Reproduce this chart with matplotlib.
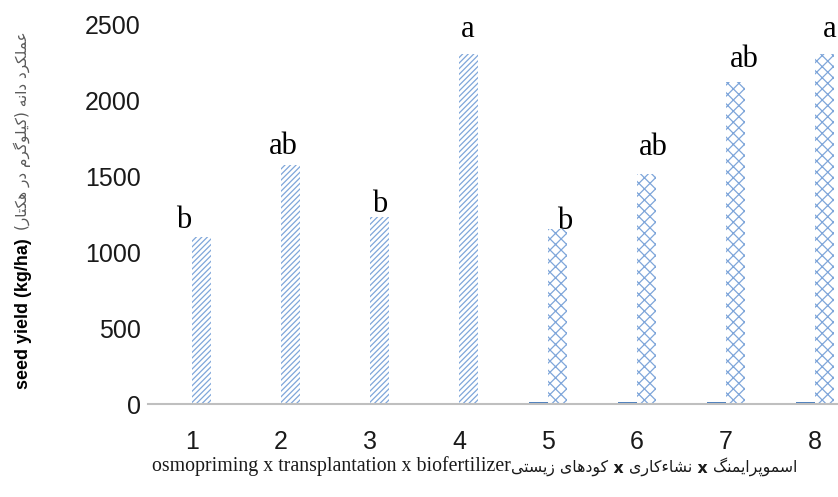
import numpy as np
import matplotlib
matplotlib.use('Agg')
import matplotlib.pyplot as plt

# data
categories = ['1', '2', '3', '4', '5', '6', '7', '8']
small_series = [0, 0, 0, 0, 12, 12, 12, 12]          # tiny left bars (cats 5-8)
seed_yield = [1100, 1575, 1235, 2310, 1155, 1515, 2125, 2310]
letters = ['b', 'ab', 'b', 'a', 'b', 'ab', 'ab', 'a']

ylabel_en = 'seed yield (kg/ha)'
ylabel_fa = 'عملکرد دانه (کیلوگرم در هکتار)'
xlabel_en = 'osmopriming x transplantation x biofertilizer'
xlabel_fa = ['کودهای زیستی', ' x ', 'نشاءکاری', ' x ', 'اسموپرایمنگ']

# simple persian shaping (matplotlib has no complex text layout)
FORMS = {
    'ا': ('\uFE8D', '\uFE8E', None, None),
    'ب': ('\uFE8F', '\uFE90', '\uFE91', '\uFE92'),
    'پ': ('\uFB56', '\uFB57', '\uFB58', '\uFB59'),
    'ت': ('\uFE95', '\uFE96', '\uFE97', '\uFE98'),
    'د': ('\uFEA9', '\uFEAA', None, None),
    'ر': ('\uFEAD', '\uFEAE', None, None),
    'ز': ('\uFEAF', '\uFEB0', None, None),
    'س': ('\uFEB1', '\uFEB2', '\uFEB3', '\uFEB4'),
    'ش': ('\uFEB5', '\uFEB6', '\uFEB7', '\uFEB8'),
    'ع': ('\uFEC9', '\uFECA', '\uFECB', '\uFECC'),
    'ک': ('\uFB8E', '\uFB8F', '\uFB90', '\uFB91'),
    'گ': ('\uFB92', '\uFB93', '\uFB94', '\uFB95'),
    'ل': ('\uFEDD', '\uFEDE', '\uFEDF', '\uFEE0'),
    'م': ('\uFEE1', '\uFEE2', '\uFEE3', '\uFEE4'),
    'ن': ('\uFEE5', '\uFEE6', '\uFEE7', '\uFEE8'),
    'ه': ('\uFEE9', '\uFEEA', '\uFEEB', '\uFEEC'),
    'و': ('\uFEED', '\uFEEE', None, None),
    'ی': ('\uFBFC', '\uFBFD', '\uFBFE', '\uFBFF'),
    'ء': ('\uFE80', None, None, None),
}


def rtl(s):
    out = []
    for i, c in enumerate(s):
        f = FORMS.get(c)
        if f is None:
            out.append(c)
            continue
        prev = s[i - 1] if i > 0 else ''
        nxt = s[i + 1] if i + 1 < len(s) else ''
        jp = prev in FORMS and FORMS[prev][2] is not None and f[1] is not None
        jn = f[2] is not None and nxt in FORMS and FORMS[nxt][1] is not None
        if jp and jn:
            out.append(f[3])
        elif jp:
            out.append(f[1])
        elif jn:
            out.append(f[2])
        else:
            out.append(f[0])
    vis = ''.join(out)[::-1]
    return vis.replace('(', '\0').replace(')', '(').replace('\0', ')')


plt.rcParams['font.family'] = ['Liberation Sans', 'DejaVu Sans']
plt.rcParams['hatch.linewidth'] = 0.9

fig = plt.figure(figsize=(8.38, 4.97), dpi=100)
ax = fig.add_axes([147.5 / 838, 93 / 497, 712 / 838, 379 / 497])

x = np.arange(1, len(categories) + 1)
w = 0.213
hatch_col = '#7FA6DA'

ax.bar(x - w / 2, small_series, w, color='#4F81BD', linewidth=0)
bars = ax.bar(x + w / 2, seed_yield, w, color='white', edgecolor=hatch_col, linewidth=0)
for i, b in enumerate(bars):
    b.set_hatch('//////' if i < 4 else 'xxx')

# letter nudges in pixels (dx, dy above bar top)
nudge = [(-18, 9), (-7, 11), (0, 5), (-1, 17), (7, 0), (7, 19), (9, 15), (5, 17)]
for xi, v, lab, (dx, dy) in zip(x, seed_yield, letters, nudge):
    ax.annotate(lab, xy=(xi + w / 2, v), xytext=(dx * 0.72, dy * 0.72),
                textcoords='offset points', ha='center', va='baseline',
                fontsize=22, family='Liberation Serif', color='black')

ax.set_xlim(0.5, 8.5)
ax.set_ylim(0, 2500)
ax.set_yticks(range(0, 2501, 500))
ax.set_xticks(x)
ax.set_xticklabels(categories)
ax.tick_params(axis='both', length=0, labelsize=18, colors='#1a1a1a')
ax.tick_params(axis='x', pad=19)
ax.tick_params(axis='y', pad=5)
for s in ['top', 'right', 'left']:
    ax.spines[s].set_visible(False)
ax.spines['bottom'].set_color('#BFBFBF')
ax.spines['bottom'].set_linewidth(1.5)

# y label: english (bold) below, persian above
fig.text(23 / 838, 1 - 314 / 497, ylabel_en, rotation=90, ha='center', va='center',
         fontsize=13, fontweight='bold', color='black')
fig.text(22 / 838, 1 - 131 / 497, rtl(ylabel_fa), rotation=90, ha='center', va='center',
         fontsize=11, family='DejaVu Sans', color='#595959')

# x label: english run then persian pieces chained to its right
t = fig.text(152 / 838, 1 - 471 / 497, xlabel_en, ha='left', va='baseline',
             fontsize=14.3, family='Liberation Serif', color='#1a1a1a')
for piece in xlabel_fa:
    bold = piece.strip() == 'x'
    t = ax.annotate(rtl(piece), xy=(1, 0), xycoords=t, ha='left', va='bottom',
                    fontsize=11.3, family='DejaVu Sans',
                    fontweight='bold' if bold else 'normal', color='#1a1a1a',
                    annotation_clip=False)

fig.savefig('out.png', dpi=100)
